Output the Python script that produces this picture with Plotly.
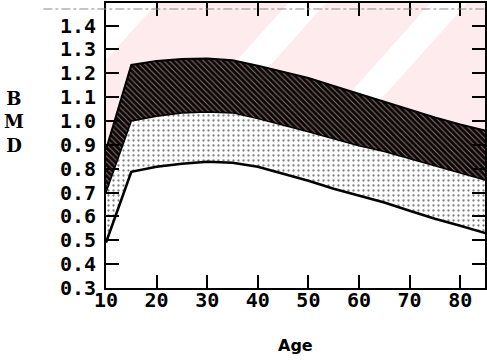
import plotly.graph_objects as go

# Age (years) and bone mineral density bands
ages = [10, 15, 20, 25, 30, 35, 40, 45, 50, 55, 60, 65, 70, 75, 80, 85]
bmd_upper = [0.88, 1.235, 1.252, 1.26, 1.262, 1.255, 1.232, 1.206, 1.18, 1.147,
             1.114, 1.08, 1.045, 1.015, 0.985, 0.96]
bmd_middle = [0.70, 1.0, 1.02, 1.034, 1.038, 1.034, 1.01, 0.984, 0.955, 0.925,
              0.896, 0.872, 0.842, 0.812, 0.78, 0.752]
bmd_lower = [0.49, 0.787, 0.808, 0.821, 0.829, 0.825, 0.808, 0.779, 0.75, 0.716,
             0.687, 0.658, 0.624, 0.59, 0.561, 0.53]
floor_value = 0.3

x_ticks = [10, 20, 30, 40, 50, 60, 70, 80]
y_ticks = [0.3, 0.4, 0.5, 0.6, 0.7, 0.8, 0.9, 1.0, 1.1, 1.2, 1.3, 1.4]
y_tick_text = ["0.3", "0.4", "0.5", "0.6", "0.7", "0.8", "0.9", "1.0", "1.1",
               "1.2", "1.3", "1.4"]

W, H = 487, 360
L, R, T, B = 106, 0, 3, 71.5
PW, PH = W - L - R, H - T - B

fig = go.Figure()

# white area under the lower curve
fig.add_trace(go.Scatter(x=ages, y=[floor_value] * len(ages), mode="lines",
                         line=dict(width=0), hoverinfo="skip", showlegend=False))
fig.add_trace(go.Scatter(x=ages, y=bmd_lower, mode="lines", fill="tonexty",
                         fillcolor="white", line=dict(color="black", width=2.6),
                         showlegend=False))
# dotted band
fig.add_trace(go.Scatter(x=ages, y=bmd_middle, mode="lines", fill="tonexty",
                         fillcolor="white",
                         fillpattern=dict(shape=".", bgcolor="white", fgcolor="black",
                                          size=5, solidity=0.17),
                         line=dict(color="black", width=1.5), showlegend=False))
# dark hatched band
fig.add_trace(go.Scatter(x=ages, y=bmd_upper, mode="lines", fill="tonexty",
                         fillcolor="#0d0404",
                         fillpattern=dict(shape="\\", bgcolor="#0d0404", fgcolor="#f8eaea",
                                          size=4, solidity=0.26),
                         line=dict(color="black", width=2), showlegend=False))


def to_dom(px, py):
    return (px - L) / PW, (H - B - py) / PH


def clip_unit(poly):
    # Sutherland-Hodgman clip of a polygon to the unit square
    def clip(pts, inside, inter):
        out = []
        for i in range(len(pts)):
            cur, prev = pts[i], pts[i - 1]
            if inside(cur):
                if not inside(prev):
                    out.append(inter(prev, cur))
                out.append(cur)
            elif inside(prev):
                out.append(inter(prev, cur))
        return out

    def ix(k):
        def f(p, q):
            t = (k - p[0]) / (q[0] - p[0])
            return (k, p[1] + t * (q[1] - p[1]))
        return f

    def iy(k):
        def f(p, q):
            t = (k - p[1]) / (q[1] - p[1])
            return (p[0] + t * (q[0] - p[0]), k)
        return f

    pts = clip(poly, lambda p: p[0] >= 0, ix(0))
    pts = clip(pts, lambda p: p[0] <= 1, ix(1))
    pts = clip(pts, lambda p: p[1] >= 0, iy(0))
    pts = clip(pts, lambda p: p[1] <= 1, iy(1))
    return pts


# faint diagonal pink banding in the plot background
slope = -0.9
bands = [(160, 292), (330, 435), (472, 700)]
shapes = []
for x0, x1 in bands:
    poly = [to_dom(x0, 0), to_dom(x1, 0), to_dom(x1 + slope * 300, 300),
            to_dom(x0 + slope * 300, 300)]
    pts = clip_unit(poly)
    if len(pts) < 3:
        continue
    d = "M " + " L ".join(f"{a:.4f},{b:.4f}" for a, b in pts) + " Z"
    shapes.append(dict(type="path", path=d, xref="paper", yref="paper",
                       fillcolor="#fdebed", line=dict(width=0), layer="below"))

# faint dashed rule near the top edge
lx0, ly = to_dom(43, 9)
shapes.append(dict(type="line", xref="paper", yref="paper", x0=lx0, x1=1,
                   y0=ly, y1=ly, line=dict(color="#8a8a8a", width=1, dash="dashdot")))

tick_font = dict(family="DejaVu Sans Mono", size=20, color="black", weight="bold")

bx, by = to_dom(14, 122)
ax_, ay_ = to_dom(296, 346)

fig.update_layout(
    width=W, height=H,
    margin=dict(l=L, r=R, t=T, b=B, pad=0),
    paper_bgcolor="white", plot_bgcolor="white",
    shapes=shapes,
    xaxis=dict(range=[10, 84.9], tickvals=x_ticks, ticks="inside", ticklen=13,
               tickwidth=2, tickcolor="black", showline=True, linecolor="black",
               linewidth=2, mirror="ticks", showgrid=False, zeroline=False,
               tickfont=tick_font, ticklabelstandoff=-7, layer="above traces"),
    yaxis=dict(range=[0.3, 1.4946], tickvals=y_ticks, ticktext=y_tick_text,
               ticks="inside", ticklen=13, tickwidth=2, tickcolor="black",
               showline=True, linecolor="black", linewidth=2, mirror="ticks",
               showgrid=False, zeroline=False, tickfont=tick_font,
               ticklabelstandoff=4, layer="above traces"),
    annotations=[
        dict(text="B<br>M<br>D", xref="paper", yref="paper", x=bx, y=by,
             showarrow=False, xanchor="center", yanchor="middle",
             font=dict(family="DejaVu Serif", size=18, color="black", weight="bold")),
        dict(text="Age", xref="paper", yref="paper", x=ax_, y=ay_,
             showarrow=False, xanchor="center", yanchor="middle",
             font=dict(family="DejaVu Sans", size=16, color="black", weight="bold")),
    ],
)

fig.write_html("out.html")
